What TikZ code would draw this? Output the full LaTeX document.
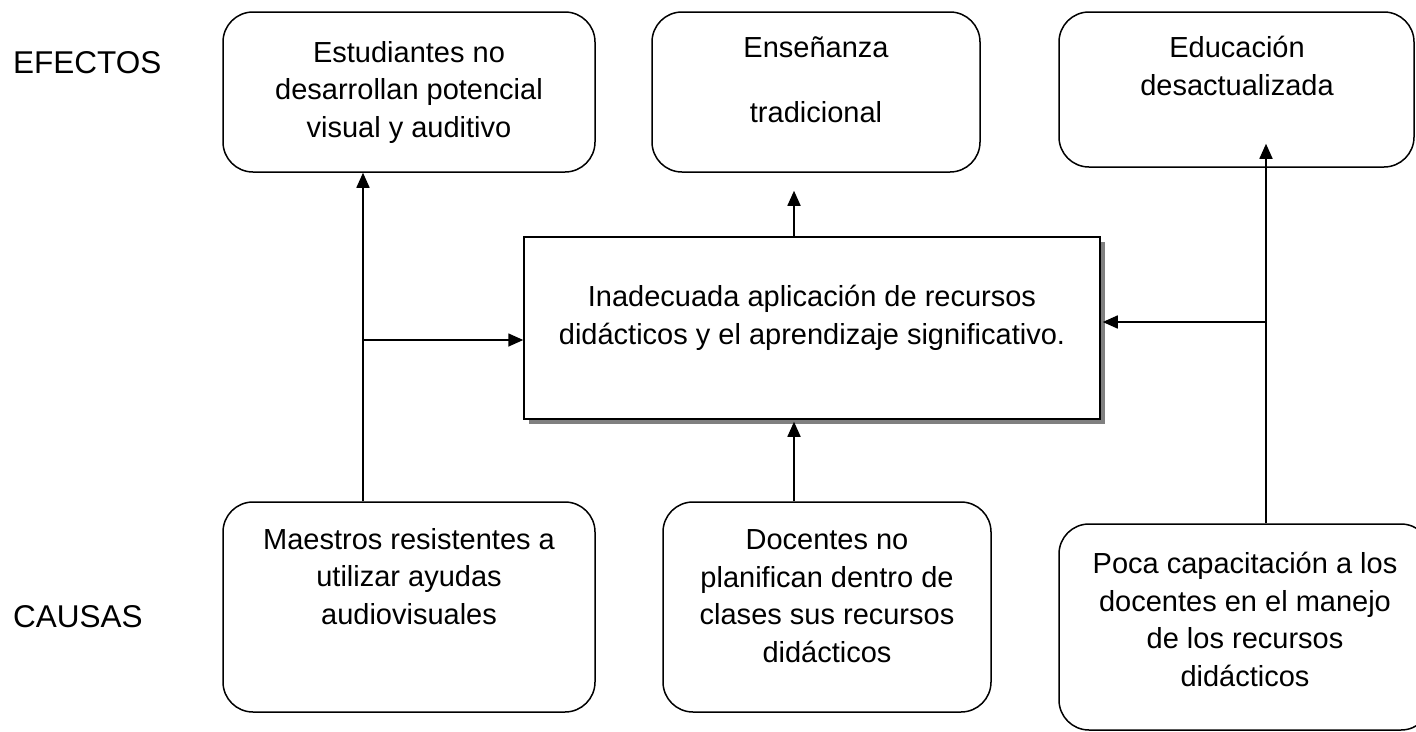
\documentclass[tikz,border=0pt]{standalone}
\usepackage{fontspec}
\setmainfont{Liberation Sans}
\usetikzlibrary{arrows.meta,shadows,calc}
\begin{document}
\begin{tikzpicture}[x=1pt,y=-1pt,
  box/.style={draw, line width=1.5pt, rounded corners=30pt, inner sep=0pt, anchor=center},
  sqbox/.style={draw, line width=1.5pt, inner sep=0pt, fill=white,
    drop shadow={shadow xshift=5pt, shadow yshift=-5pt, fill=gray, opacity=1}},
  txt/.style={inner sep=0pt, align=center, anchor=base, font=\fontsize{29}{37.5}\selectfont},
  lbl/.style={inner sep=0pt, anchor=base west, font=\fontsize{31.5}{38}\selectfont},
  arr/.style={line width=1.6pt, -{Triangle[length=15pt,width=13pt]}},
  ln/.style={line width=1.6pt}]
\useasboundingbox (0,0) rectangle (1416,731);

% labels
\node[lbl] (ef) at (13,73) {EFECTOS};
\node[lbl] (ca) at (13,627) {CAUSAS};

% effect boxes
\node[box, minimum width=372pt, minimum height=160pt] (A) at (409,92) {};
\node[box, minimum width=328pt, minimum height=160pt] (B) at (816,92) {};
\node[box, minimum width=355pt, minimum height=155pt] (C) at (1236.5,89.5) {};

% central problem
\node[sqbox, minimum width=576pt, minimum height=182pt] (X) at (812,328) {};

% cause boxes
\node[box, minimum width=372pt, minimum height=210pt] (M) at (409,607) {};
\node[box, minimum width=328pt, minimum height=210pt] (D) at (827,607) {};
\node[box, minimum width=372pt, minimum height=206pt] (P) at (1245,627) {};

% texts (anchor base = baseline of last line)
\node[txt] (tA) at (409,137) {Estudiantes no\\desarrollan potencial\\visual y auditivo};
\node[txt] (tB) at (816,122) {Enseñanza\\[27.5pt]tradicional};
\node[txt] (tC) at (1237,95) {Educación\\desactualizada};
\node[txt] (tX) at (812,344) {Inadecuada aplicación de recursos\\didácticos y el aprendizaje significativo.};
\node[txt] (tM) at (409,624) {Maestros resistentes a\\utilizar ayudas\\audiovisuales};
\node[txt] (tD) at (827,662) {Docentes no\\planifican dentro de\\clases sus recursos\\didácticos};
\node[txt] (tP) at (1245,686) {Poca capacitación a los\\docentes en el manejo\\de los recursos\\didácticos};

% connectors
\coordinate (jl) at (363,340);
\coordinate (jr) at (1266,322);
\coordinate (jc) at (794,0);
\draw[arr] (M.north -| jl) -- (A.south -| jl);
\draw[arr] (jl) -- (X.west |- jl);
\draw[arr] (X.north -| jc) -- ($(B.south -| jc)+(0,18)$);
\draw[arr] (D.north -| jc) -- ($(X.south -| jc)+(0,2)$);
\draw[ln] (P.north -| jr) -- (jr);
\draw[arr] (jr) -- ($(C.south -| jr)+(0,-24)$);
\draw[arr] (jr) -- ($(X.east |- jr)+(2,0)$);
\end{tikzpicture}
\end{document}
